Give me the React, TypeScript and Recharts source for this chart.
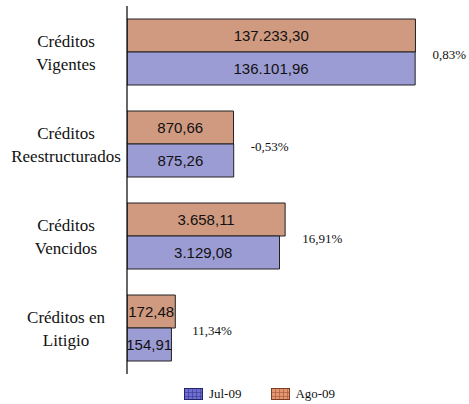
import { BarChart, Bar, XAxis, YAxis, LabelList, Legend } from "recharts";

const categories = [
  "Créditos\nVigentes",
  "Créditos\nReestructurados",
  "Créditos\nVencidos",
  "Créditos en\nLitigio",
];
const ago09 = [137233.3, 870.66, 3658.11, 172.48];
const jul09 = [136101.96, 875.26, 3129.08, 154.91];
const change = [0.83, -0.53, 16.91, 11.34];

const AGO_FILL = "#CF9A80";
const JUL_FILL = "#9C9CD4";
const SERIF = "Liberation Serif";
const SANS = "Liberation Sans";

const data = categories.map((name, i) => ({
  name,
  ago: ago09[i],
  jul: jul09[i],
  change: change[i],
}));

// 137233.3 -> "137.233,30"
const fmtNum = (v: number) => {
  const [int, dec] = Math.abs(v).toFixed(2).split(".");
  const grouped = int.replace(/\B(?=(\d{3})+(?!\d))/g, ".");
  return (v < 0 ? "-" : "") + grouped + "," + dec;
};

const fmtPct = (v: number) => (v < 0 ? "-" : "") + Math.abs(v).toFixed(2).replace(".", ",") + "%";

const box = (p: any) => {
  const vb = p.viewBox || {};
  return {
    x: p.x ?? vb.x,
    y: p.y ?? vb.y,
    width: p.width ?? vb.width,
    height: p.height ?? vb.height,
  };
};

const ValueLabel = (p: any) => {
  const { x, y, width, height } = box(p);
  return (
    <text
      x={x + width / 2}
      y={y + height / 2}
      textAnchor="middle"
      dominantBaseline="central"
      style={{ fontFamily: SANS, fontSize: 15, fill: "#111" }}
    >
      {fmtNum(Number(p.value))}
    </text>
  );
};

// percentage change, drawn to the right of the longer bar of each pair
const makeChangeLabel = (series: "ago" | "jul") => (p: any) => {
  const i = p.index;
  const longer = ago09[i] >= jul09[i] ? "ago" : "jul";
  if (longer !== series) return null;
  const { x, y, width, height } = box(p);
  const yy = series === "ago" ? y + height : y;
  return (
    <text
      x={x + width + 17}
      y={yy + 2}
      dominantBaseline="central"
      style={{ fontFamily: SERIF, fontSize: 13, fill: "#111" }}
    >
      {fmtPct(change[i])}
    </text>
  );
};

const CategoryTick = (p: any) => {
  const lines = String(p.payload.value).split("\n");
  return (
    <g>
      {lines.map((l, k) => (
        <text
          key={k}
          x={66}
          y={p.y - 5 + k * 23}
          textAnchor="middle"
          style={{ fontFamily: SERIF, fontSize: 17, fill: "#111" }}
        >
          {l}
        </text>
      ))}
    </g>
  );
};

const LegendIcon = ({ id, fill, line }: { id: string; fill: string; line: string }) => (
  <svg width={19} height={12} style={{ verticalAlign: "middle" }}>
    <defs>
      <pattern id={id} width={4} height={4} patternUnits="userSpaceOnUse">
        <rect width={4} height={4} fill={fill} />
        <path d="M0 0H4M0 0V4" stroke={line} strokeWidth={0.8} />
      </pattern>
    </defs>
    <rect x={0.5} y={0.5} width={18} height={11} fill={`url(#${id})`} stroke={line} />
  </svg>
);

const LegendContent = () => (
  <div
    style={{
      display: "flex",
      justifyContent: "center",
      alignItems: "center",
      fontFamily: SERIF,
      fontSize: 13,
      color: "#111",
      paddingLeft: 50,
    }}
  >
    <LegendIcon id="legJul" fill="#6E6ED2" line="#23236E" />
    <span style={{ marginLeft: 6, marginRight: 30 }}>Jul-09</span>
    <LegendIcon id="legAgo" fill="#E6956E" line="#7A3D22" />
    <span style={{ marginLeft: 5 }}>Ago-09</span>
  </div>
);

export default function App() {
  return (
    <div style={{ position: "absolute", left: 0, top: 0, width: 469, height: 404, background: "#fff" }}>
      <BarChart
        width={469}
        height={404}
        data={data}
        layout="vertical"
        margin={{ top: 6, right: 22, bottom: 30, left: 0 }}
        barGap={0}
        barSize={33}
      >
        <XAxis type="number" scale="log" domain={[45, 330000]} allowDataOverflow hide />
        <YAxis
          type="category"
          dataKey="name"
          width={127}
          axisLine={{ stroke: "#000", strokeWidth: 1.2 }}
          tickLine={false}
          interval={0}
          tick={<CategoryTick />}
        />
        <Legend
          verticalAlign="middle"
          layout="horizontal"
          content={<LegendContent />}
          wrapperStyle={{ position: "absolute", left: 0, top: 386, width: 469 }}
        />
        <Bar dataKey="ago" name="Ago-09" fill={AGO_FILL} stroke="#222" strokeWidth={1} isAnimationActive={false}>
          <LabelList dataKey="ago" content={<ValueLabel />} />
          <LabelList dataKey="ago" content={makeChangeLabel("ago")} />
        </Bar>
        <Bar dataKey="jul" name="Jul-09" fill={JUL_FILL} stroke="#222" strokeWidth={1} isAnimationActive={false}>
          <LabelList dataKey="jul" content={<ValueLabel />} />
          <LabelList dataKey="jul" content={makeChangeLabel("jul")} />
        </Bar>
      </BarChart>
    </div>
  );
}
